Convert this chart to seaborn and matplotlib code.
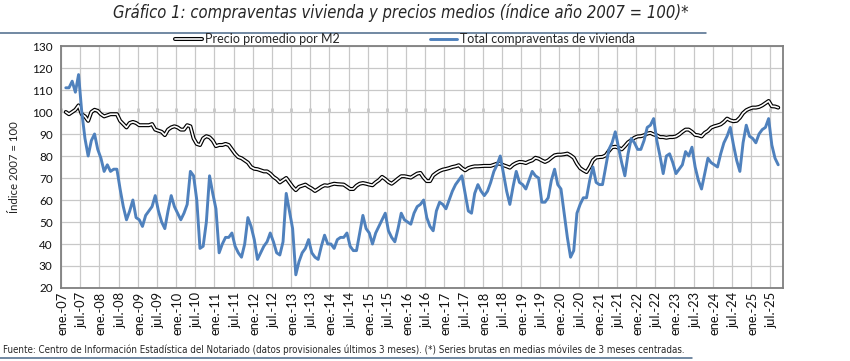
import numpy as np
import pandas as pd
import seaborn as sns
import matplotlib.pyplot as plt
from matplotlib.lines import Line2D
from matplotlib.legend_handler import HandlerTuple
from matplotlib import font_manager

# monthly series, feb-07 .. sep-25 (3-month centred moving average, index 2007 = 100)
precio = [
    100, 99, 100, 101, 103, 99, 98, 96, 100, 101, 100.5, 99, 98, 98.5, 99, 99, 99, 96, 94.5, 93,
    95, 95.5, 95, 94, 94, 94, 94, 94.5, 92, 91.5, 91, 89.5, 92, 93, 93.5, 93, 92, 92, 94, 93.5,
    88, 85.5, 85, 88, 89, 88.5, 87, 84.5, 85, 85, 85.5, 85, 83, 81, 79.5, 79, 78, 77, 75, 74.2,
    74, 73.5, 73, 73, 72, 70.5, 69.5, 68, 69, 70, 68, 66, 64.5, 66, 66.5, 67, 66, 65.2, 64.1, 65,
    66, 66.7, 66.5, 67, 67.4, 67.2, 67.1, 67, 66, 65, 65, 66.5, 67.4, 67.7, 67.4, 67, 66.7, 68, 69, 70.5,
    69.5, 68.2, 67.4, 68.5, 69.7, 70.8, 70.8, 70.5, 70.2, 71.1, 72, 72.3, 70.2, 68.6, 68.6, 71.2, 72.3, 73.2, 73.8, 74.1,
    74.5, 75, 75.3, 75.8, 74.5, 73.5, 74.5, 75, 75.3, 75.3, 75.4, 75.5, 75.5, 75.5, 76, 76.5, 76.5, 75.8, 75.3, 74.7,
    76, 76.8, 77.3, 77.2, 76.8, 77.5, 78, 79.2, 78.8, 78, 77.3, 78, 79.2, 80.3, 80.6, 80.6, 80.8, 81.1, 80.3, 79.2,
    76.5, 74.5, 73.5, 72.7, 75, 78, 79.3, 79.5, 79.6, 80.3, 82.3, 84, 84.2, 83.8, 83, 84.5, 86.2, 87.2, 88.3, 88.9,
    89, 89.4, 90.2, 90.5, 89.8, 89.4, 88.6, 88.6, 88.3, 88.6, 88.6, 88.9, 89.8, 91, 92, 92, 91, 89.6, 89.4, 88.9,
    90.5, 91.4, 92.9, 93.5, 93.9, 94.4, 95.5, 97, 96.2, 95.8, 96, 97.4, 99.5, 100.8, 101.5, 102, 102, 102.3, 103, 104,
    105, 102.6, 102.5, 102,
]
compraventas = [
    111, 111, 114, 109, 117, 100, 88, 80, 87, 90, 83, 79, 73, 76, 73, 74, 74, 65, 57, 51,
    55, 60, 52, 51, 48, 53, 55, 57, 62, 55, 50, 47, 55, 62, 57, 54, 51, 54, 58, 73,
    71, 60, 38, 39, 50, 71, 63, 56, 36, 40, 43, 43, 45, 39, 36, 34, 40, 52, 48, 42,
    33, 36, 39, 41, 45, 41, 36, 35, 41, 63, 55, 47, 26, 32, 36, 38, 42, 36, 34, 33,
    39, 44, 40, 40, 38, 42, 43, 43, 45, 39, 37, 37, 45, 53, 47, 45, 40, 45, 48, 51,
    54, 46, 43, 41, 47, 54, 51, 50, 49, 54, 57, 58, 60, 52, 48, 46, 55, 59, 58, 56,
    60, 64, 67, 69, 71, 63, 55, 54, 63, 67, 64, 62, 64, 68, 73, 76, 80, 72, 64, 58,
    66, 73, 68, 67, 65, 69, 73, 71, 70, 59, 59, 61, 69, 74, 67, 65, 54, 43, 34, 37,
    54, 58, 61, 61, 69, 75, 68, 67, 67, 75, 83, 86, 91, 84, 77, 71, 81, 88, 86, 83,
    83, 87, 93, 94, 97, 87, 80, 72, 80, 81, 77, 72, 74, 76, 82, 80, 84, 75, 69, 65,
    72, 79, 77, 76, 75, 81, 86, 89, 93, 85, 78, 73, 86, 94, 89, 88, 86, 90, 92, 93,
    97, 85, 79, 76,
]
# category axis runs ene-07 .. oct-25; first and last months have no centred average
meses = pd.date_range("2007-01-01", "2025-10-01", freq="MS")
etiquetas = [f"{m}-{a:02d}" for a in range(7, 26) for m in ("ene.", "jul.")]

df = pd.DataFrame({
    "pos": np.arange(1, len(meses) - 1),
    "Precio promedio por M2": precio,
    "Total compraventas de vivienda": compraventas,
})

sns.set_style("white")
plt.rcParams["font.family"] = ["Lato", "DejaVu Sans"]

# narrow face for title and footnote, if there is one
nombres = {f.name for f in font_manager.fontManager.ttflist}
estrecha = "Liberation Sans Narrow" if "Liberation Sans Narrow" in nombres else "DejaVu Sans"
estira = "normal" if estrecha == "Liberation Sans Narrow" else "condensed"

fig = plt.figure(figsize=(8.5, 3.61), dpi=100)
ax = fig.add_axes([61 / 850, 1 - 288 / 361, 722 / 850, 242 / 361])

n = len(meses)
ax.set_xlim(-0.5, n - 0.5)
ax.set_ylim(20, 130)
ax.set_yticks(range(20, 131, 10))
ax.set_xticks(np.arange(0, n, 6), etiquetas)
ax.set_xticks(np.arange(-0.5, n, 6), minor=True)
ax.grid(which="minor", axis="x", color="#c8c8c8", lw=0.9)
ax.grid(which="major", axis="y", color="#c8c8c8", lw=0.9)
ax.set_axisbelow(True)

# horizontal category axis crosses at 100
sec = ax.secondary_xaxis((100 - 20) / 110)
sec.set_xticks(np.arange(-0.5, n, 6), [""] * len(np.arange(-0.5, n, 6)))
sec.tick_params(direction="out", length=3, width=1, color="black")
sec.spines["bottom"].set_color("black")
sec.spines["bottom"].set_linewidth(1.4)
sec.spines["top"].set_visible(False)

sns.lineplot(data=df, x="pos", y="Precio promedio por M2", ax=ax, color="black", lw=2.9, zorder=3)
sns.lineplot(data=df, x="pos", y="Precio promedio por M2", ax=ax, color="white", lw=1.2, zorder=4)
sns.lineplot(data=df, x="pos", y="Total compraventas de vivienda", ax=ax, color="#4F81BD", lw=2.1, zorder=5)

ax.set_xlabel("")
ax.set_ylabel("Índice 2007 = 100", fontsize=8.2, color="#222222", labelpad=9)
ax.tick_params(axis="x", which="both", length=0, labelsize=9.3, labelrotation=90, pad=3, colors="#111111")
ax.tick_params(axis="y", length=4, width=1, direction="out", labelsize=8.5, pad=2, colors="#7f7f7f",
               labelcolor="#111111")
for s in ax.spines.values():
    s.set_color("#7f7f7f")
    s.set_linewidth(1.3)

h_precio = (Line2D([], [], color="black", lw=2.9), Line2D([], [], color="white", lw=1.2))
h_total = Line2D([], [], color="#4F81BD", lw=2.1)
fig.legend([h_precio, h_total], ["Precio promedio por M2", "Total compraventas de vivienda"],
           handler_map={tuple: HandlerTuple(ndivide=1)}, loc="center",
           bbox_to_anchor=(405 / 850, 1 - 39 / 361), ncol=2, frameon=False, fontsize=9,
           handlelength=2.2, handletextpad=0.25, columnspacing=7.2, borderpad=0)

fig.text(401 / 850, 1 - 13 / 361,
         "Gráfico 1: compraventas vivienda y precios medios (índice año 2007 = 100)*",
         ha="center", va="center", style="italic", fontsize=11.9, family=estrecha, fontstretch=estira)
fig.add_artist(Line2D([0, 706 / 850], [1 - 33 / 361] * 2, color="#4a6889", lw=1.1))
fig.text(3 / 850, 1 - 350 / 361,
         "Fuente: Centro de Información Estadística del Notariado (datos provisionales últimos 3 meses). "
         "(*) Series brutas en medias móviles de 3 meses centradas.",
         ha="left", va="center", fontsize=7.0, family=estrecha, fontstretch=estira)
fig.add_artist(Line2D([0, 692 / 850], [1 - 358 / 361] * 2, color="#4a6889", lw=1.1))

fig.savefig("out.png", dpi=100, facecolor="white")
